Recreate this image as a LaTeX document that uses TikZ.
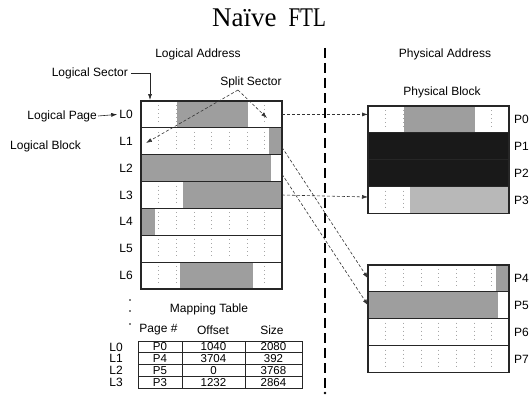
\documentclass[tikz,border=0pt]{standalone}
\usepackage{fontspec}
\usepackage{graphicx}
\setmainfont{Liberation Sans}
\newfontfamily\titlefont{Liberation Serif}
\usetikzlibrary{arrows.meta}

\begin{document}
\begin{tikzpicture}[x=1pt,y=-1pt,
  lbl/.style={font=\fontsize{12}{14}\selectfont, inner sep=0pt, text=black},
  pagebox/.style={draw=black!85, line width=1.1pt, minimum width=141pt,
    minimum height=26.86pt, inner sep=0pt, outer sep=0pt},
  datafill/.style={fill=black!38},
  lightfill/.style={fill=black!28},
  darkfill/.style={fill=black!90},
  sectorline/.style={draw=black!35, line width=0.5pt, dash pattern=on 1pt off 3pt},
  link/.style={draw=black!80, line width=0.6pt, dash pattern=on 3pt off 2pt,
    -{Latex[length=6pt,width=4pt]}},
  plainarrow/.style={draw=black!85, line width=0.6pt, -{Latex[length=6pt,width=4pt]}},
  separator/.style={draw=black, line width=2.6pt, dash pattern=on 10pt off 5pt},
  cell/.style={draw=black!85, line width=0.9pt, minimum height=11.75pt, inner sep=0pt,
    outer sep=0pt, font=\fontsize{11.5}{12}\selectfont},
]
\useasboundingbox (0,0) rectangle (530,404);

% ---- title and headings ----
\node[font=\titlefont\fontsize{27}{30}\selectfont, inner sep=0pt] (title) at (269,18)
  {Naïve\hspace{12pt}\scalebox{0.78}[1]{FTL}};
\node[lbl] (laddr) at (198,54) {Logical Address};
\node[lbl] (paddr) at (445,54) {Physical Address};
\node[lbl] (pblock) at (442,92) {Physical Block};

% ---- sector grid lines inside every page ----
\foreach \k in {0,...,6} {
  \foreach \j in {1,...,7} {
    \draw[sectorline] (141+17.625*\j, 101+26.86*\k+4) -- (141+17.625*\j, 101+26.86*\k+23);
  }
}
\foreach \k in {0,...,3} {
  \foreach \j in {1,...,7} {
    \draw[sectorline] (368+17.625*\j, 106+26.86*\k+4) -- (368+17.625*\j, 106+26.86*\k+23);
    \draw[sectorline] (368+17.625*\j, 265+26.86*\k+4) -- (368+17.625*\j, 265+26.86*\k+23);
  }
}

% ---- data held in the logical pages ----
\fill[datafill] (177,101) rectangle (248,127.86);
\fill[datafill] (268.5,127.86) rectangle (282,154.72);
\fill[datafill] (141,154.72) rectangle (271,181.58);
\fill[datafill] (183.4,181.58) rectangle (282,208.44);
\fill[datafill] (141,208.44) rectangle (155,235.3);
\fill[datafill] (180,262.16) rectangle (253,289.02);

% ---- data held in the physical pages ----
\fill[datafill] (403.8,106) rectangle (475,132.86);
\fill[darkfill] (368,132.86) rectangle (509,186.58);
\fill[lightfill] (410.4,186.58) rectangle (509,213.44);
\fill[datafill] (495.5,265) rectangle (509,291.86);
\fill[datafill] (368,291.86) rectangle (497.7,318.72);

% ---- logical block ----
\foreach \k in {0,...,6} {
  \node[pagebox] (L\k) at (211.5, 101+26.86*\k+13.43) {};
  \node[lbl, anchor=east] (Llab\k) at (133, 101+26.86*\k+13.43) {L\k};
}

% ---- physical blocks ----
\foreach \k in {0,...,3} {
  \node[pagebox] (P\k) at (438.5, 106+26.86*\k+13.43) {};
  \node[lbl, anchor=west] (Plab\k) at (514, 106+26.86*\k+13.43) {P\k};
}
\foreach \k/\n in {0/4,1/5,2/6,3/7} {
  \node[pagebox] (P\n) at (438.5, 265+26.86*\k+13.43) {};
  \node[lbl, anchor=west] (Plab\n) at (514, 265+26.86*\k+13.43) {P\n};
}

% ---- side labels ----
\node[lbl, anchor=east] (lsector) at (128,73) {Logical Sector};
\coordinate (sectortip) at (150,100);
\draw[plainarrow] ([xshift=3pt]lsector.east) -| (sectortip);

\node[lbl, anchor=east] (lpage) at (97,116) {Logical Page};
\draw[plainarrow] ([xshift=1pt]lpage.east) -- ([xshift=-2pt]Llab0.west);

\node[lbl, anchor=west] (lblock) at (10,146) {Logical Block};

\node[lbl] (split) at (251,82) {Split Sector};
\coordinate (splitfoot) at (238,90);
\coordinate (splitR) at (267,118);
\coordinate (splitL) at (146,143);
\draw[link] (splitfoot) -- (splitR);
\draw[link] (splitfoot) -- (splitL);

% ---- mapping connectors ----
\draw[link] (L0.east) -- (L0.east -| P0.west);
\draw[link] (L3.east) -- ([yshift=-2pt]L3.east -| P3.west);
\draw[link] ([yshift=-6pt]L1.east) -- (P4.west);
\draw[link] ([yshift=-6pt]L2.east) -- (P5.west);

% ---- logical / physical separator ----
\coordinate (septop) at (325,48);
\coordinate (sepbot) at (325,388);
\draw[separator] (septop) -- (sepbot);
\fill (325,393) circle (1.3);

% ---- continuation dots ----
\fill (130,300) circle (0.8);
\fill (130,311) circle (0.8);
\fill (130,324) circle (0.8);

% ---- mapping table ----
\node[lbl] (mtitle) at (209,309) {Mapping Table};
\node[lbl] (hpage) at (158.5,330) {Page \#};
\node[lbl] (hoff) at (213,330) {Offset};
\node[lbl] (hsize) at (272,330) {Size};
\foreach \r/\p/\o/\s in {0/P0/1040/2080, 1/P4/3704/392, 2/P5/0/3768, 3/P3/1232/2864} {
  \node[cell, minimum width=44pt] (tp\r) at (160, 341+11.75*\r+5.875) {\p};
  \node[cell, minimum width=63pt] (to\r) at (213.5, 341+11.75*\r+5.875) {\o};
  \node[cell, minimum width=57pt] (ts\r) at (273.5, 341+11.75*\r+5.875) {\s};
  \node[lbl, anchor=east] (tl\r) at (123, 341+11.75*\r+5.875) {L\r};
}
\end{tikzpicture}
\end{document}
